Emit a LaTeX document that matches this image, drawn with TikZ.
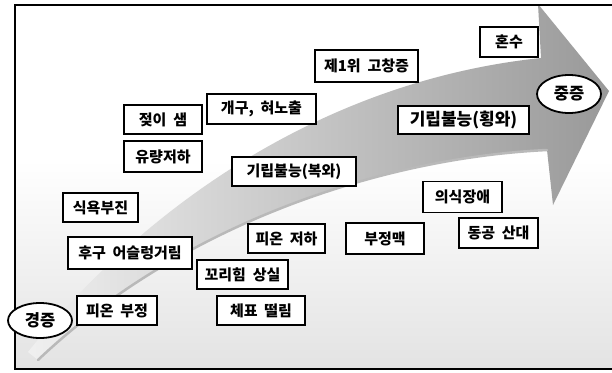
\documentclass[tikz,border=0pt]{standalone}
\usetikzlibrary{shapes.geometric}
\usepackage{fontspec}
\setmainfont{Noto Sans CJK KR}
\newcommand\ks{\hspace{0.45em}}
\begin{document}
\begin{tikzpicture}[x=1pt,y=-1pt,
  kbox/.style={draw=black,line width=1.8pt,fill=white,inner sep=0pt,
    font=\bfseries\fontsize{15}{17}\selectfont},
  koval/.style={draw=black,line width=1.8pt,fill=white,ellipse,inner sep=0pt,
    minimum width=64pt,font=\bfseries\fontsize{16.5}{18}\selectfont}]
\useasboundingbox (0,0) rectangle (612,372);
% background
\fill[white] (0,0) rectangle (612,372);
\shade[top color=white,bottom color=gray!22] (15,160) rectangle (612,369);
% big curved arrow
\shade[left color=gray!12,middle color=gray!42,right color=gray!80]
  (28,352) .. controls (150,200) and (330,80) .. (541,58)
  -- (538,4) -- (609,91) -- (553,205) -- (547,150)
  .. controls (380,158) and (180,225) .. (38,360) -- cycle;
\draw[gray!55,line width=2.5pt,line cap=round]
  (547,150) .. controls (380,158) and (180,225) .. (38,360);
% frame
\draw[line width=1.8pt] (612,5) -- (15,5) -- (15,369) -- (612,369);
% boxes
\node[kbox,minimum width=78pt,minimum height=29pt] (jeot) at (163,119.5) {젖이\ks 샘};
\node[kbox,minimum width=78pt,minimum height=31pt] (yuryang) at (163,156.5) {유량저하};
\node[kbox,minimum width=109pt,minimum height=30pt] (gaegu) at (261.5,109) {개구,\ks 혀노출};
\node[kbox,minimum width=124pt,minimum height=29pt] (bokwa) at (294,171.5) {기립불능(복와)};
\node[kbox,minimum width=103pt,minimum height=32pt] (gochang) at (366.5,66) {제1위\ks 고창증};
\node[kbox,minimum width=58pt,minimum height=30pt] (honsu) at (509,42) {혼수};
\node[kbox,minimum width=131pt,minimum height=28pt,font=\bfseries\fontsize{17}{19}\selectfont] (hoengwa) at (463.5,120) {기립불능(횡와)};
\node[kbox,minimum width=75pt,minimum height=29pt] (sikyok) at (100.5,207.5) {식욕부진};
\node[kbox,minimum width=124pt,minimum height=32pt] (hugu) at (130,253) {후구\ks 어슬렁거림};
\node[kbox,minimum width=77pt,minimum height=29pt] (pion1) at (286.5,238.5) {피온\ks 저하};
\node[kbox,minimum width=91pt,minimum height=29pt] (kkori) at (242.5,274.5) {꼬리힘\ks 상실};
\node[kbox,minimum width=88pt,minimum height=29pt] (chepyo) at (261,310.5) {체표\ks 떨림};
\node[kbox,minimum width=80pt,minimum height=29pt] (pion2) at (117,310.5) {피온\ks 부정};
\node[kbox,minimum width=78pt,minimum height=31pt] (bujeong) at (385,238.5) {부정맥};
\node[kbox,minimum width=79pt,minimum height=31pt] (uisik) at (462.5,197) {의식장애};
\node[kbox,minimum width=79pt,minimum height=30pt] (donggong) at (498.5,233) {동공\ks 산대};
% ovals
\node[koval,minimum height=38pt] (jungjeung) at (569,94) {중증};
\node[koval,minimum height=35pt] (gyeongjeung) at (40,320.5) {경증};
\end{tikzpicture}
\end{document}
